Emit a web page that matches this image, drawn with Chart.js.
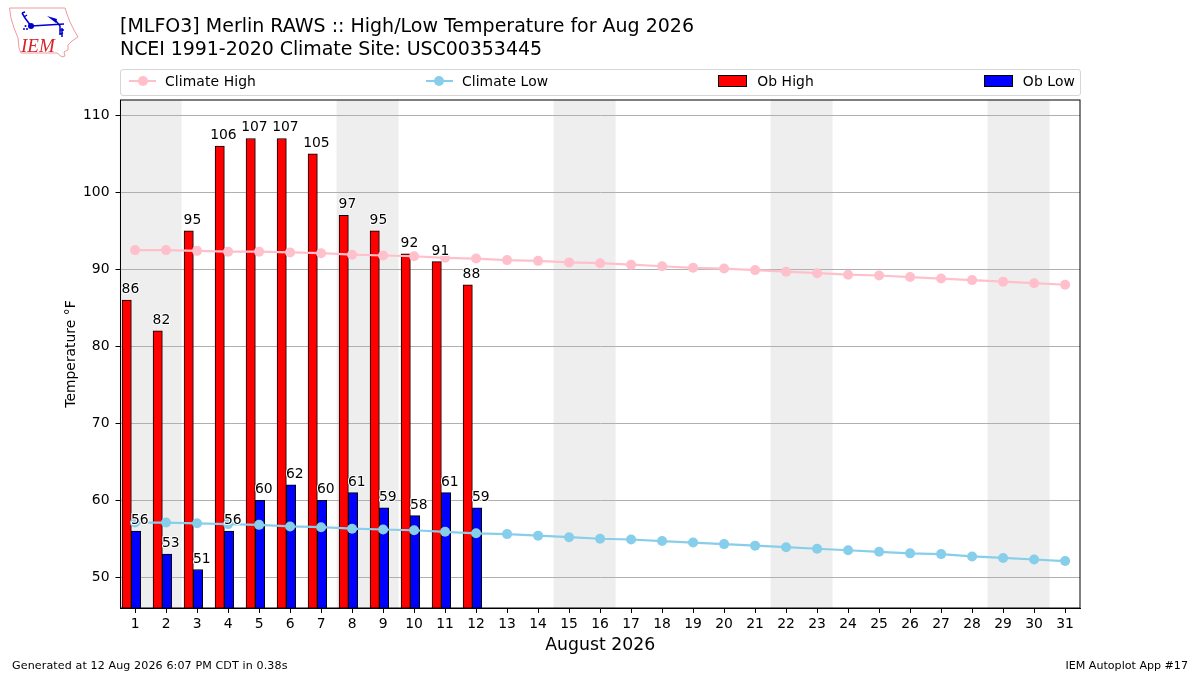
<!DOCTYPE html>
<html>
<head>
<meta charset="utf-8">
<title>Merlin RAWS High/Low Temperature</title>
<script src="https://cdn.jsdelivr.net/npm/chart.js@4"></script>
<style>
	html, body { margin: 0; padding: 0; background: #fff; }
	body { position: relative; width: 1200px; height: 675px; overflow: hidden; font-family: "DejaVu Sans", sans-serif; color: #000; }
	canvas { position: absolute; left: 0; top: 0; }
	.title { position: absolute; left: 120px; font-size: 19px; line-height: 24px; white-space: nowrap; }
	.foot { position: absolute; top: 659px; font-size: 11.1px; line-height: 14px; white-space: nowrap; }
	#legend { position: absolute; left: 120px; top: 69px; width: 961px; height: 26.5px; box-sizing: border-box; border: 1px solid #d6d6d6; border-radius: 3px; padding: 0 5px 2px 8px; display: flex; justify-content: space-between; align-items: center; font-size: 13.9px; letter-spacing: 0.1px; }
	.item { display: flex; align-items: center; white-space: nowrap; }
	.handle { position: relative; width: 27px; height: 2px; margin-right: 9px; }
	.handle i { position: absolute; left: 8.5px; top: -4px; width: 10px; height: 10px; border-radius: 50%; background: inherit; }
	.swatch { width: 27px; height: 10px; border: 1px solid #000; margin-right: 10px; }
	#logo { position: absolute; left: 0; top: 0; }
</style>
</head>
<body>
<canvas id="myChart" width="1200" height="675"></canvas>
<svg id="logo" width="90" height="64" viewBox="0 0 90 64">
	<path d="M9.5 8 L65 8 L67 14 L70 22 L74 30 L78 37 L72 41 L68 45 L68 50 L64 52 L65 56 L62 57 L57 53 L21 53 L19 48 L18 38 L14 28 L11 18 Z" fill="#fff" stroke="#ee9a9f" stroke-width="1"/>
	<g stroke="#0000cc" stroke-width="1.5" fill="none">
		<path d="M31 26 L64 24"/>
		<path d="M31 26 L25 18 L22 13 M22 13 L25 12 M24 17 L27 15"/>
		<path d="M56 21 L60 26 L60 35 M60 30 L64 30 M60 34 L63 33 M62 28 L62 37"/>
	</g>
	<circle cx="31" cy="26" r="3" fill="#0000cc"/>
	<path d="M47 16 L57 19 L56 23 Z" fill="#0000cc"/>
	<circle cx="24" cy="29" r="1" fill="#0000cc"/>
	<circle cx="27" cy="29" r="1" fill="#0000cc"/>
	<circle cx="25.5" cy="26" r="1" fill="#0000cc"/>
	<text x="21" y="52" font-family="Liberation Serif" font-style="italic" font-size="19" fill="#d8222a">IEM</text>
</svg>
<div class="title" style="top:13px">[MLFO3] Merlin RAWS :: High/Low Temperature for Aug 2026</div>
<div class="title" style="top:36px;letter-spacing:-0.07px">NCEI 1991-2020 Climate Site: USC00353445</div>
<div id="legend"></div>
<div class="foot" style="left:12px;letter-spacing:0.11px">Generated at 12 Aug 2026 6:07 PM CDT in 0.38s</div>
<div class="foot" style="right:12px">IEM Autoplot App #17</div>
<script>
// Chart data
const days = [1, 2, 3, 4, 5, 6, 7, 8, 9, 10, 11, 12, 13, 14, 15, 16, 17, 18, 19, 20, 21, 22, 23, 24, 25, 26, 27, 28, 29, 30, 31];
const climateHigh = [92.5, 92.5, 92.4, 92.3, 92.3, 92.2, 92.1, 91.9, 91.8, 91.7, 91.5, 91.4, 91.2, 91.1, 90.9, 90.8, 90.6, 90.4, 90.2, 90.1, 89.9, 89.7, 89.5, 89.3, 89.2, 89.0, 88.8, 88.6, 88.4, 88.2, 88.0];
const climateLow = [57.1, 57.1, 57.0, 56.9, 56.8, 56.6, 56.5, 56.3, 56.2, 56.1, 55.9, 55.7, 55.6, 55.4, 55.2, 55.0, 54.9, 54.7, 54.5, 54.3, 54.1, 53.9, 53.7, 53.5, 53.3, 53.1, 53.0, 52.7, 52.5, 52.3, 52.1];
const obHigh = [86, 82, 95, 106, 107, 107, 105, 97, 95, 92, 91, 88];
const obLow = [56, 53, 51, 56, 60, 62, 60, 61, 59, 58, 61, 59];
const weekends = [[1, 2], [8, 9], [15, 16], [22, 23], [29, 30]];

const toPoints = (values) => values.map((v, i) => ({ x: days[i], y: v }));

Chart.defaults.font.family = '"DejaVu Sans", sans-serif';
Chart.defaults.font.size = 13.9;
Chart.defaults.color = "#000";

// Weekend shading sits under the grid lines
const weekendBands = {
	id: "weekendBands",
	beforeDraw(chart) {
		const { ctx, chartArea, scales } = chart;
		ctx.save();
		ctx.fillStyle = "#eeeeee";
		weekends.forEach(([a, b]) => {
			const left = scales.x.getPixelForValue(a - 0.5);
			const right = scales.x.getPixelForValue(b + 0.5);
			ctx.fillRect(left, chartArea.top, right - left, chartArea.height);
		});
		ctx.restore();
	},
};

// Value labels above the bars and the black frame around the plot
const valueLabels = {
	id: "valueLabels",
	afterDatasetsDraw(chart) {
		const { ctx, chartArea, scales } = chart;
		ctx.save();
		ctx.strokeStyle = "#000";
		ctx.lineWidth = 1;
		ctx.strokeRect(chartArea.left, chartArea.top, chartArea.width, chartArea.height);
		ctx.font = '13.9px "DejaVu Sans"';
		ctx.textAlign = "center";
		ctx.textBaseline = "alphabetic";
		ctx.lineJoin = "round";
		const draw = (values, shift) => {
			values.forEach((v, i) => {
				const x = scales.x.getPixelForValue(days[i] + shift);
				const y = scales.y.getPixelForValue(v) - 7;
				ctx.strokeStyle = "#fff";
				ctx.lineWidth = 2;
				ctx.strokeText(String(v), x, y);
				ctx.fillStyle = "#000";
				ctx.fillText(String(v), x, y);
			});
		};
		draw(obHigh, -0.15);
		draw(obLow, 0.15);
		ctx.restore();
	},
};

const ctx = document.getElementById("myChart").getContext("2d");
const myChart = new Chart(ctx, {
	data: {
		datasets: [
			{
				type: "line",
				label: "Climate High",
				data: toPoints(climateHigh),
				borderColor: "pink",
				backgroundColor: "pink",
				borderWidth: 2.2,
				pointRadius: 5,
				pointBorderWidth: 0,
				xAxisID: "x",
				order: 1,
			},
			{
				type: "line",
				label: "Climate Low",
				data: toPoints(climateLow),
				borderColor: "skyblue",
				backgroundColor: "skyblue",
				borderWidth: 2.2,
				pointRadius: 5,
				pointBorderWidth: 0,
				xAxisID: "x",
				order: 1,
			},
			{
				type: "bar",
				label: "Ob High",
				data: toPoints(obHigh),
				backgroundColor: "#ff0000",
				borderColor: "#000",
				borderWidth: 1,
				barThickness: 9.3,
				xAxisID: "xBars",
				order: 2,
			},
			{
				type: "bar",
				label: "Ob Low",
				data: toPoints(obLow),
				backgroundColor: "#0000ff",
				borderColor: "#000",
				borderWidth: 1,
				barThickness: 9.3,
				xAxisID: "xBars",
				order: 2,
			},
		],
	},
	options: {
		responsive: false,
		animation: false,
		devicePixelRatio: 1,
		layout: { padding: { left: 63, top: 100, right: 120, bottom: 0 } },
		plugins: { legend: { display: false }, tooltip: { enabled: false } },
		scales: {
			x: {
				type: "linear",
				min: 0.53,
				max: 31.48,
				offset: false,
				grid: { drawOnChartArea: false, tickColor: "#000", tickLength: 5, offset: false },
				border: { color: "#000" },
				ticks: { stepSize: 1, includeBounds: false, autoSkip: false, maxRotation: 0, padding: 3 },
				title: { display: true, text: "August 2026", font: { size: 17.3 }, padding: { top: 2, bottom: 19 } },
				afterFit(scale) {
					scale.height = 67;
				},
			},
			// Bars sit a little left of the day tick, so they get their own shifted axis
			xBars: {
				type: "linear",
				position: "bottom",
				display: false,
				min: 0.65,
				max: 31.6,
				offset: false,
				grid: { offset: false },
				ticks: { stepSize: 1, includeBounds: false },
			},
			y: {
				min: 46,
				max: 112,
				grid: { color: "#b0b0b0", lineWidth: 1, tickColor: "#000", tickLength: 5 },
				border: { color: "#000" },
				ticks: { stepSize: 10, includeBounds: false, padding: 6 },
				title: { display: true, text: "Temperature °F", padding: { top: 0, bottom: 0 } },
				afterFit(scale) {
					scale.width = 57.5;
				},
			},
		},
	},
	plugins: [weekendBands, valueLabels],
});

// Legend row along the top of the plot
const legend = document.getElementById("legend");
myChart.data.datasets.forEach((ds) => {
	const item = document.createElement("div");
	item.className = "item";
	const key = document.createElement("div");
	key.className = ds.type === "line" ? "handle" : "swatch";
	key.style.background = ds.backgroundColor;
	if (ds.type === "line") key.appendChild(document.createElement("i"));
	item.appendChild(key);
	item.appendChild(document.createTextNode(ds.label));
	legend.appendChild(item);
});
</script>
</body>
</html>
